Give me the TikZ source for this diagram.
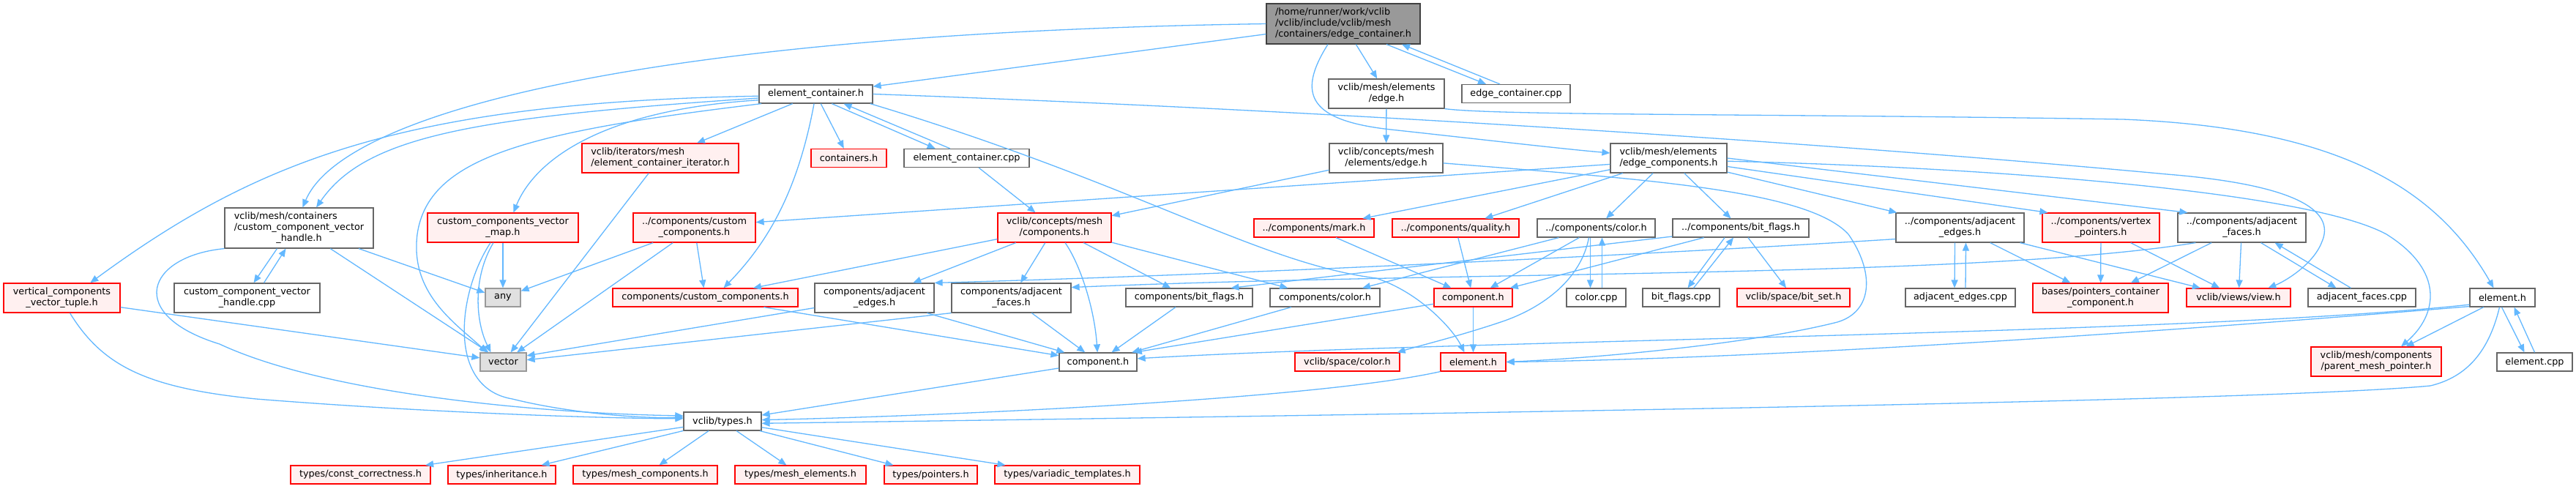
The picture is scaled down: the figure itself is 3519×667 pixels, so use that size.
\documentclass[tikz,border=0pt]{standalone}
\usepackage{fontspec}
\setmainfont{DejaVu Sans}
\usetikzlibrary{arrows.meta}
\definecolor{edgec}{HTML}{63B8FF}
\definecolor{ngray}{HTML}{666666}
\definecolor{rootfill}{HTML}{999999}
\definecolor{rootdraw}{HTML}{404040}
\definecolor{rfill}{HTML}{FFF0F0}
\definecolor{gfill}{HTML}{E0E0E0}
\definecolor{gdraw}{HTML}{999999}
\newcommand{\twoln}[2]{\begin{tabular}{@{}l@{}}#1\\\multicolumn{1}{@{}c@{}}{#2}\end{tabular}}
\newcommand{\threeln}[3]{\begin{tabular}{@{}l@{}}#1\\#2\\\multicolumn{1}{@{}c@{}}{#3}\end{tabular}}
\tikzset{
  wh/.style 2 args={minimum width=#1pt, minimum height=#2pt},
  nbase/.style={rectangle, inner sep=0pt, line width=1.2pt, font=\fontsize{12.8}{15}\selectfont},
  wb/.style={nbase, draw=ngray, fill=white},
  rb/.style={nbase, draw=red, fill=rfill},
  gb/.style={nbase, draw=gdraw, fill=gfill},
  rootb/.style={nbase, draw=rootdraw, fill=rootfill},
  dep/.style={draw=edgec, line width=1.3pt, -{Triangle[length=11pt,width=9pt]}}
}
\begin{document}
\begin{tikzpicture}[x=1pt,y=-1pt]
\fill[white] (0,0) rectangle (3519,667);
\useasboundingbox (0,0) rectangle (3519,667);

% nodes
\node[rootb, wh={210}{55}] (root) at (1835,32.5) {\threeln{/home/runner/work/vclib}{/vclib/include/vclib/mesh}{/containers/edge\_container.h}};
\node[wb, wh={155}{25}] (ec) at (1114.5,128.5) {element\_container.h};
\node[wb, wh={158}{40}] (medge) at (1894,128) {\twoln{vclib/mesh/elements}{/edge.h}};
\node[wb, wh={148}{25}] (eccpp) at (2071,128) {edge\_container.cpp};
\node[wb, wh={171}{25}] (ecpp) at (1320.5,216) {element\_container.cpp};
\node[rb, wh={214}{40}] (iter) at (902,216) {\twoln{vclib/iterators/mesh}{/element\_container\_iterator.h}};
\node[rb, wh={103}{25}] (conth) at (1159.5,216) {containers.h};
\node[wb, wh={155}{40}] (cedge) at (1893.5,216) {\twoln{vclib/concepts/mesh}{/elements/edge.h}};
\node[wb, wh={159}{40}] (ecomp) at (2279.5,216) {\twoln{vclib/mesh/elements}{/edge\_components.h}};
\node[wb, wh={203}{55}] (ccvh) at (408.5,311.5) {\threeln{vclib/mesh/containers}{/custom\_component\_vector}{\_handle.h}};
\node[rb, wh={206}{40}] (ccvmap) at (687,311) {\twoln{custom\_components\_vector}{\_map.h}};
\node[rb, wh={167}{40}] (ccc) at (948.5,311) {\twoln{../components/custom}{\_components.h}};
\node[rb, wh={155}{40}] (cmc) at (1440.5,311) {\twoln{vclib/concepts/mesh}{/components.h}};
\node[rb, wh={164}{25}] (mark) at (1795,311.5) {../components/mark.h};
\node[rb, wh={173}{25}] (qual) at (1988.5,311.5) {../components/quality.h};
\node[wb, wh={161}{25}] (colh) at (2180.5,311.5) {../components/color.h};
\node[wb, wh={186}{25}] (bfh) at (2378,311.5) {../components/bit\_flags.h};
\node[wb, wh={175}{40}] (aeh) at (2677.5,311) {\twoln{../components/adjacent}{\_edges.h}};
\node[rb, wh={160}{40}] (vph) at (2870,311) {\twoln{../components/vertex}{\_pointers.h}};
\node[wb, wh={175}{40}] (afh) at (3062.5,311) {\twoln{../components/adjacent}{\_faces.h}};
\node[rb, wh={159}{40}] (vtuple) at (84.5,407) {\twoln{vertical\_components}{\_vector\_tuple.h}};
\node[wb, wh={199}{40}] (ccvhcpp) at (337.5,407) {\twoln{custom\_component\_vector}{\_handle.cpp}};
\node[gb, wh={48}{25}] (any) at (687,406.5) {any};
\node[rb, wh={253}{25}] (cccomp) at (963.5,406.5) {components/custom\_components.h};
\node[wb, wh={163}{40}] (cae) at (1194.5,407) {\twoln{components/adjacent}{\_edges.h}};
\node[wb, wh={163}{40}] (caf) at (1381.5,407) {\twoln{components/adjacent}{\_faces.h}};
\node[wb, wh={173}{25}] (cbf) at (1624.5,406.5) {components/bit\_flags.h};
\node[wb, wh={150}{25}] (ccol) at (1810,406.5) {components/color.h};
\node[rb, wh={107}{25}] (compr) at (2012.5,406.5) {component.h};
\node[wb, wh={81}{25}] (cppc) at (2180.5,406.5) {color.cpp};
\node[wb, wh={105}{25}] (bfcpp) at (2296.5,406.5) {bit\_flags.cpp};
\node[rb, wh={154}{25}] (bitset) at (2450,406.5) {vclib/space/bit\_set.h};
\node[wb, wh={150}{25}] (aecpp) at (2678,406.5) {adjacent\_edges.cpp};
\node[rb, wh={185}{40}] (pcc) at (2869.5,407) {\twoln{bases/pointers\_container}{\_component.h}};
\node[rb, wh={142}{25}] (view) at (3058,406.5) {vclib/views/view.h};
\node[wb, wh={147}{25}] (afcpp) at (3226.5,406.5) {adjacent\_faces.cpp};
\node[wb, wh={89}{25}] (elg) at (3418.5,406.5) {element.h};
\node[rb, wh={178}{40}] (pmp) at (3246,494) {\twoln{vclib/mesh/components}{/parent\_mesh\_pointer.h}};
\node[wb, wh={103}{25}] (elcpp) at (3462.5,494.5) {element.cpp};
\node[gb, wh={63}{25}] (vector) at (687.5,494.5) {vector};
\node[wb, wh={106}{25}] (compc) at (1500,494.5) {component.h};
\node[rb, wh={143}{25}] (scol) at (1840.5,494.5) {vclib/space/color.h};
\node[rb, wh={89}{25}] (elr) at (2012.5,494.5) {element.h};
\node[wb, wh={106}{25}] (types) at (987,575.5) {vclib/types.h};
\node[rb, wh={191}{25}] (tcc) at (492.5,648.5) {types/const\_correctness.h};
\node[rb, wh={147}{25}] (tinh) at (685.5,648.5) {types/inheritance.h};
\node[rb, wh={197}{25}] (tmc) at (881.5,648.5) {types/mesh\_components.h};
\node[rb, wh={179}{25}] (tme) at (1093.5,648.5) {types/mesh\_elements.h};
\node[rb, wh={127}{25}] (tptr) at (1271.5,648.5) {types/pointers.h};
\node[rb, wh={198}{25}] (tvt) at (1458,648.5) {types/variadic\_templates.h};

% root edges
\draw[dep] (root) -- (ec);
\draw[dep] (root.west) .. controls (900,45) and (470,150) .. (ccvh.80);
\draw[dep] (root) -- (medge);
\draw[dep] ([xshift=59]root.south) -- ([xshift=-41]eccpp.north);
\draw[dep] ([xshift=-22]eccpp.north) -- ([xshift=80]root.south);
\draw[dep] ([xshift=-21]root.south) .. controls (1770,130) and (1790,165) .. (1900,177) .. controls (2020,190) and (2130,203) .. (ecomp.175);

% element_container.h edges
\draw[dep] (ec.184) .. controls (650,160) and (500,185) .. (ccvh.50);
\draw[dep] (ec.182) .. controls (550,140) and (350,220) .. (vtuple.28);
\draw[dep] (ec.186) .. controls (820,150) and (730,220) .. (ccvmap.55);
\draw[dep] (ec.190) .. controls (720,180) and (585,215) .. (570,320) .. controls (560,400) and (620,440) .. ([xshift=-22]vector.north);
\draw[dep] (ec) -- (iter);
\draw[dep] (ec) -- (conth);
\draw[dep] (ec.-31) -- (ecpp.163);
\draw[dep] (ecpp.150) -- (ec.-19);
\draw[dep] (ec) .. controls (1090,260) and (1050,330) .. ([xshift=25]cccomp.north);
\draw[dep] (ec.-10) .. controls (1550,250) and (1720,360) .. (1880,380) .. controls (1940,400) and (1985,450) .. ([xshift=-12]elr.north);
\draw[dep] (ec.east) .. controls (1800,150) and (2500,195) .. (2960,238) .. controls (3170,255) and (3185,300) .. (3172,330) .. controls (3160,362) and (3120,385) .. (view.18);

% edge.h / concepts edge.h
\draw[dep] (medge) -- (cedge);
\draw[dep] (medge.south east) .. controls (2050,158) and (2400,155) .. (2900,163) .. controls (3200,175) and (3330,260) .. ([xshift=-12]elg.north);
\draw[dep] (cedge) -- (cmc);
\draw[dep] (cedge.-5) .. controls (2250,245) and (2470,260) .. (2525,320) .. controls (2560,370) and (2560,425) .. (2510,440) .. controls (2400,468) and (2200,488) .. (elr.east);

% edge_components.h
\draw[dep] (ecomp) -- (mark);
\draw[dep] (ecomp) -- (qual);
\draw[dep] (ecomp) -- (colh);
\draw[dep] (ecomp) -- (bfh);
\draw[dep] (ecomp.186) -- (ccc.5);
\draw[dep] (ecomp) -- (aeh);
\draw[dep] (ecomp) -- ([xshift=8]vph.north west);
\draw[dep] (ecomp.east) -- ([xshift=14]afh.north west);
\draw[dep] (ecomp.-3) .. controls (2700,228) and (3150,260) .. (3260,320) .. controls (3340,370) and (3330,430) .. ([xshift=34]pmp.north);

% element_container.cpp
\draw[dep] (ecpp) -- (cmc);

% custom_component_vector_handle.h
\draw[dep] ([xshift=-30]ccvh.south) -- ([xshift=9]ccvhcpp.north);
\draw[dep] ([xshift=23]ccvhcpp.north) -- ([xshift=-18]ccvh.south);
\draw[dep] (ccvh.-19) -- (any.165);
\draw[dep] (ccvh) -- (vector);
\draw[dep] (ccvh.south west) .. controls (200,350) and (170,430) .. (300,470) .. controls (450,540) and (750,565) .. (types.172);

% vertical tuple
\draw[dep] ([xshift=11]vtuple.south) .. controls (140,500) and (200,530) .. (350,545) .. controls (600,565) and (850,572) .. (types.176);
\draw[dep] (vtuple.-9) -- (vector.170);

% custom_components_vector_map.h
\draw[dep] (ccvmap) -- (any);
\draw[dep] ([xshift=-13]ccvmap.south) .. controls (645,380) and (650,440) .. ([xshift=-17]vector.north);
\draw[dep] ([xshift=-17]ccvmap.south) .. controls (625,400) and (610,530) .. (700,545) .. controls (780,565) and (880,572) .. (types.174);

% iterator
\draw[dep] (iter) -- (vector);

% ../components/custom_components.h
\draw[dep] (ccc) -- (any);
\draw[dep] (ccc) -- (vector);
\draw[dep] (ccc) -- (cccomp);

% vclib/concepts/mesh/components.h
\draw[dep] (cmc) -- (cccomp);
\draw[dep] (cmc) -- (cae);
\draw[dep] (cmc) -- (caf);
\draw[dep] (cmc) .. controls (1475,360) and (1495,420) .. (compc);
\draw[dep] (cmc) -- (cbf);
\draw[dep] (cmc) -- (ccol);

% concept components
\draw[dep] (cccomp) -- (compc);
\draw[dep] (cae) -- (compc);
\draw[dep] (cae) -- (vector.15);
\draw[dep] (caf) -- (compc);
\draw[dep] (caf.south west) -- (vector.5);
\draw[dep] (cbf) -- (compc);
\draw[dep] (ccol) -- (compc);
\draw[dep] (compr) -- (compc.15);
\draw[dep] (compr) -- (elr);

% ../components/*.h
\draw[dep] (mark) -- (compr);
\draw[dep] (qual) -- (compr);
\draw[dep] (colh) -- (compr);
\draw[dep] (colh) -- (ccol);
\draw[dep] ([xshift=-10]colh.south) .. controls (2160,380) and (2110,420) .. (2050,440) .. controls (1990,460) and (1940,472) .. ([xshift=-4]scol.north east);
\draw[dep] ([xshift=-8]colh.south) -- ([xshift=-8]cppc.north);
\draw[dep] ([xshift=8]cppc.north) -- ([xshift=8]colh.south);
\draw[dep] (bfh.187) -- ([xshift=57]cbf.north);
\draw[dep] (bfh) -- (compr);
\draw[dep] (bfh) -- (bitset);
\draw[dep] ([xshift=-22]bfh.south) -- ([xshift=9]bfcpp.north);
\draw[dep] ([xshift=17]bfcpp.north) -- ([xshift=-10]bfh.south);
\draw[dep] (aeh.190) .. controls (2300,345) and (1700,375) .. (cae.north east);
\draw[dep] (aeh) -- (pcc);
\draw[dep] (aeh) -- (view);
\draw[dep] ([xshift=-7]aeh.south) -- ([xshift=-8]aecpp.north);
\draw[dep] ([xshift=7]aecpp.north) -- ([xshift=8]aeh.south);
\draw[dep] (vph) -- (pcc);
\draw[dep] (vph) -- (view);
\draw[dep] ([xshift=25]afh.south west) .. controls (2700,380) and (2000,370) .. (caf.10);
\draw[dep] (afh) -- (pcc);
\draw[dep] (afh) -- (view);
\draw[dep] ([xshift=26]afh.south) -- ([xshift=-35]afcpp.north);
\draw[dep] ([xshift=-15]afcpp.north) -- ([xshift=45]afh.south);

% element.h (mesh)
\draw[dep] (elg.192) .. controls (3000,457) and (2000,464) .. (compc.5);
\draw[dep] (elg.195) .. controls (2900,458) and (2400,490) .. (elr.east);
\draw[dep] (elg) -- (pmp);
\draw[dep] ([xshift=-4]elg.south) .. controls (3400,480) and (3370,515) .. (3320,527) .. controls (3100,548) and (2000,565) .. (types.-3);
\draw[dep] ([xshift=-1]elg.south) -- ([xshift=-14]elcpp.north);
\draw[dep] (elcpp.north) -- ([xshift=16]elg.south);

% to types
\draw[dep] (compc) -- (types);
\draw[dep] (elr.south west) .. controls (1800,545) and (1300,568) .. (types.2);

% types outgoing
\draw[dep] (types) -- (tcc);
\draw[dep] (types) -- (tinh);
\draw[dep] (types) -- (tmc);
\draw[dep] (types) -- (tme);
\draw[dep] (types) -- (tptr);
\draw[dep] (types) -- (tvt);
\end{tikzpicture}
\end{document}
